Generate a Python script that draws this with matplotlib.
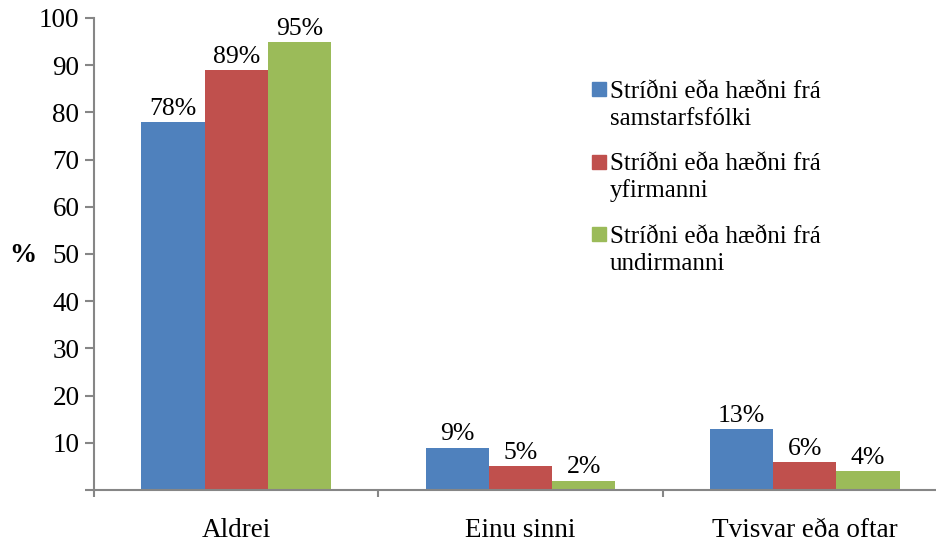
import matplotlib
matplotlib.use("Agg")
import matplotlib.pyplot as plt
from matplotlib.patches import Rectangle
import numpy as np

categories = ["Aldrei", "Einu sinni", "Tvisvar eða oftar"]
series_names = [
    "Stríðni eða hæðni frá\nsamstarfsfólki",
    "Stríðni eða hæðni frá\nyfirmanni",
    "Stríðni eða hæðni frá\nundirmanni",
]
samstarfsfolk = [78, 9, 13]
yfirmadur = [89, 5, 6]
undirmadur = [95, 2, 4]
y_ticks = [10, 20, 30, 40, 50, 60, 70, 80, 90, 100]

colors = ["#4F81BD", "#C0504D", "#9BBB59"]
axis_gray = "#868686"

plt.rcParams["font.family"] = ["Liberation Serif", "DejaVu Serif"]

W, H = 936, 545
fig = plt.figure(figsize=(W / 100, H / 100), dpi=100)
ax = fig.add_axes([94 / W, 55 / H, 853 / W, 472 / H])

x = np.arange(len(categories))
width = 0.222
all_series = [samstarfsfolk, yfirmadur, undirmadur]
for i, (vals, col) in enumerate(zip(all_series, colors)):
    pos = x + (i - 1) * width
    bars = ax.bar(pos, vals, width, color=col, zorder=2)
    for b, v in zip(bars, vals):
        ax.text(b.get_x() + b.get_width() / 2, v + 1.5, f"{v}%",
                ha="center", va="baseline", fontsize=18.5, color="black")

ax.set_xlim(-0.5, 2.5)
ax.set_ylim(0, 100)

ax.set_yticks([0] + y_ticks)
ax.set_yticklabels([""] + [str(t) for t in y_ticks])
ax.tick_params(axis="y", direction="out", length=6.5, width=1.5,
               color=axis_gray, labelsize=19.5, pad=4)

ax.set_xticks(x)
ax.set_xticklabels(categories)
ax.tick_params(axis="x", length=0, labelsize=19.5, pad=20)
ax.set_xticks([-0.5, 0.5, 1.5, 2.5], minor=True)
ax.tick_params(axis="x", which="minor", direction="out", length=5,
               width=1.5, color=axis_gray)

for side in ["top", "right"]:
    ax.spines[side].set_visible(False)
for side in ["left", "bottom"]:
    ax.spines[side].set_color(axis_gray)
    ax.spines[side].set_linewidth(1.5)

fig.text(23 / W, 1 - 255 / H, "%", ha="center", va="center",
         fontsize=19.5, fontweight="bold")

# Legend: colour square beside the first line of each two-line label
baselines = [98, 170.5, 243]
for name, col, yb in zip(series_names, colors, baselines):
    fig.patches.append(Rectangle((592 / W, 1 - (yb - 2) / H), 14 / W, 14 / H,
                                 transform=fig.transFigure, color=col,
                                 figure=fig))
    first, second = name.split("\n")
    fig.text(610 / W, 1 - yb / H, first, ha="left", va="baseline",
             fontsize=18)
    fig.text(610 / W, 1 - (yb + 27) / H, second, ha="left", va="baseline",
             fontsize=18)

fig.savefig("out.png", dpi=100)
